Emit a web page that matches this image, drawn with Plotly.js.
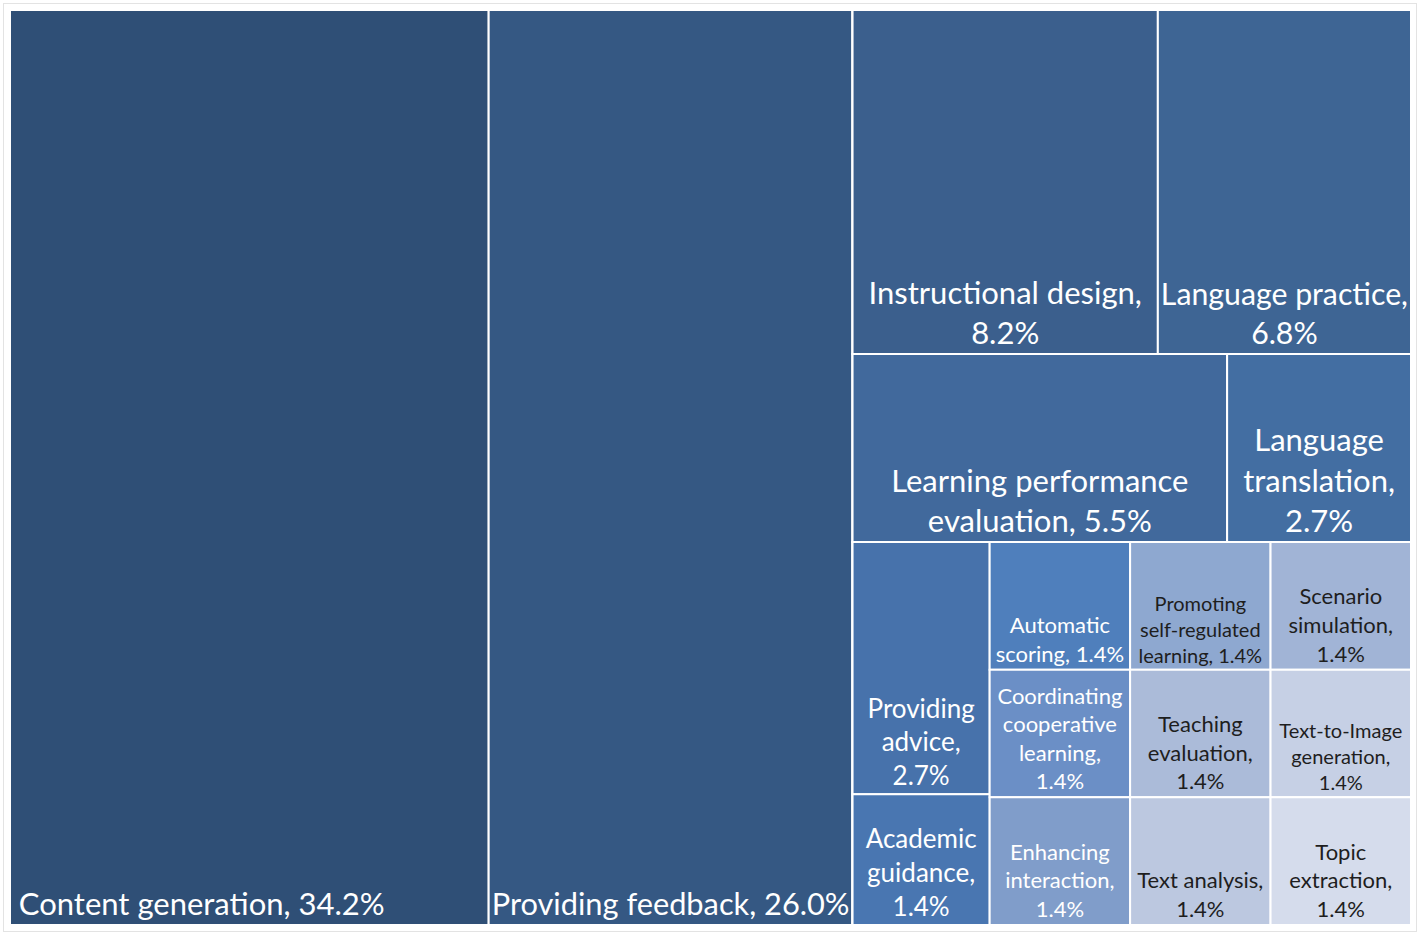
<!DOCTYPE html>
<html>
<head>
<meta charset="utf-8">
<script src="https://cdn.plot.ly/plotly-3.0.1.min.js"></script>
<style>
  html, body { margin: 0; padding: 0; background: #ffffff; }
  #wrap { position: relative; width: 1422px; height: 936px; }
  #chart { width: 1422px; height: 936px; }
  #frame { position: absolute; left: 3px; top: 3px; width: 1414px; height: 929px;
           border: 1px solid #e3e3e3; box-sizing: border-box; pointer-events: none; }
</style>
</head>
<body>
<div id="wrap"><div id="chart"></div><div id="frame"></div></div>
<script>
// ---- data ----
const categories = [
  "Content generation", "Providing feedback", "Instructional design", "Language practice",
  "Learning performance evaluation", "Language translation", "Providing advice", "Academic guidance",
  "Automatic scoring", "Coordinating cooperative learning", "Enhancing interaction",
  "Promoting self-regulated learning", "Teaching evaluation", "Text analysis",
  "Scenario simulation", "Text-to-Image generation", "Topic extraction"
];
const percents = [34.2, 26.0, 8.2, 6.8, 5.5, 2.7, 2.7, 1.4, 1.4, 1.4, 1.4, 1.4, 1.4, 1.4, 1.4, 1.4, 1.4];
// grouping of the treemap (Excel-style rows/columns)
const groupOf = ["", "", "r1", "r1", "r2", "r2", "c1", "c1", "c2", "c2", "c2", "c3", "c3", "c3", "c4", "c4", "c4"];
const groups = ["g3", "r1", "r2", "r3", "c1", "c2", "c3", "c4"];
const groupParents = ["", "g3", "g3", "g3", "r3", "r3", "r3", "r3"];
// label text as wrapped in the reference
const labelLines = [
  ["Content generation, 34.2%"],
  ["Providing feedback, 26.0%"],
  ["Instructional design,", "8.2%"],
  ["Language practice,", "6.8%"],
  ["Learning performance", "evaluation, 5.5%"],
  ["Language", "translation,", "2.7%"],
  ["Providing", "advice,", "2.7%"],
  ["Academic", "guidance,", "1.4%"],
  ["Automatic", "scoring, 1.4%"],
  ["Coordinating", "cooperative", "learning,", "1.4%"],
  ["Enhancing", "interaction,", "1.4%"],
  ["Promoting", "self-regulated", "learning, 1.4%"],
  ["Teaching", "evaluation,", "1.4%"],
  ["Text analysis,", "1.4%"],
  ["Scenario", "simulation,", "1.4%"],
  ["Text-to-Image", "generation,", "1.4%"],
  ["Topic", "extraction,", "1.4%"]
];
// the largest label sits at the left of its cell in the reference
const trailingSpaces = [12, 0, 0, 0, 0, 0, 0, 0, 0, 0, 0, 0, 0, 0, 0, 0, 0];
const cellColors = [
  "#2f4f76", "#355883", "#3b5f8d", "#3e6594", "#41699c", "#436ea2", "#4772ab", "#4976b1",
  "#4f7fbc", "#6b8fc6", "#809dca", "#8ea8d0", "#abbbd9", "#bcc8e0",
  "#a1b4d6", "#c6d0e5", "#d5dcec"
];
const textColors = [
  "#ffffff", "#ffffff", "#ffffff", "#ffffff", "#ffffff", "#ffffff", "#ffffff", "#ffffff",
  "#ffffff", "#ffffff", "#ffffff", "#1e1e1e", "#1e1e1e", "#1e1e1e", "#1e1e1e", "#1e1e1e", "#1e1e1e"
];
const textSizes = [31, 31, 31, 31, 31, 31, 26, 26, 22, 22, 22, 20, 22, 22, 22, 20, 22];

// ---- build treemap ----
const ids = [], labels = [], parents = [], values = [], colors = [], texts = [], tcol = [], tsize = [];
categories.forEach((c, i) => {
  ids.push(c); labels.push(c); parents.push(groupOf[i]); values.push(percents[i]);
  colors.push(cellColors[i]);
  texts.push(labelLines[i].join("<br>") + "\u00A0".repeat(trailingSpaces[i]));
  tcol.push(textColors[i]); tsize.push(textSizes[i]);
});
groups.forEach((g, i) => {
  ids.push(g); labels.push(""); parents.push(groupParents[i]); values.push(0);
  colors.push("#ffffff"); texts.push(""); tcol.push("#ffffff"); tsize.push(10);
});

const trace = {
  type: "treemap",
  ids: ids, labels: labels, parents: parents, values: values,
  branchvalues: "remainder",
  sort: false,
  text: texts,
  textinfo: "text",
  textposition: "bottom center",
  hoverinfo: "label+text",
  textfont: { family: "Lato, 'Open Sans', sans-serif", color: tcol, size: tsize },
  marker: {
    colors: colors,
    line: { color: "#ffffff", width: 2 },
    pad: { t: 0, l: 0, r: 0, b: 0 }
  },
  tiling: { packing: "slice-dice", pad: 0 },
  leaf: { opacity: 1 },
  pathbar: { visible: false },
  root: { color: "#ffffff" }
};

const layout = {
  width: 1422, height: 936,
  margin: { l: 10, r: 11, t: 10, b: 11 },
  paper_bgcolor: "#ffffff",
  showlegend: false
};

Plotly.newPlot("chart", [trace], layout, { displayModeBar: false, staticPlot: true });
</script>
</body>
</html>
